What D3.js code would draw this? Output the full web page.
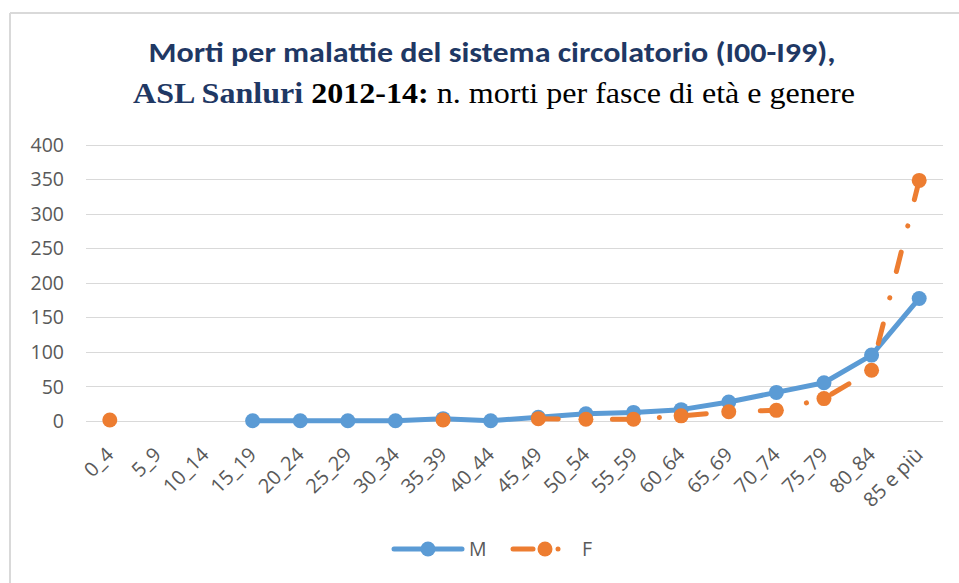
<!DOCTYPE html>
<html>
<head>
<meta charset="utf-8">
<script src="https://cdn.jsdelivr.net/npm/d3@7"></script>
<style>
  html, body { margin: 0; padding: 0; background: #fff; }
  svg { display: block; }
</style>
</head>
<body>
<script>
const categories = ["0_4","5_9","10_14","15_19","20_24","25_29","30_34","35_39","40_44","45_49","50_54","55_59","60_64","65_69","70_74","75_79","80_84","85 e più"];
const valuesM = [null,null,null,0,0,0,0,3,0,5,10,12,16,27,41,55,95,177];
const valuesF = [1,null,null,null,null,null,null,1,null,3,2,2,7,13,15,32,73,348];
const yTicks = [0,50,100,150,200,250,300,350,400];
const seriesNames = ["M","F"];

const W = 959, H = 583;
const colM = "#5B9BD5", colF = "#ED7D31", grid = "#D9D9D9", txt = "#595959";

const svg = d3.select("body").append("svg").attr("width", W).attr("height", H);

// chart frame (top + left edge visible)
svg.append("line").attr("x1", 10).attr("x2", W).attr("y1", 13).attr("y2", 13)
  .attr("stroke", "#d9d9d9").attr("stroke-width", 2);
svg.append("line").attr("x1", 10).attr("x2", 10).attr("y1", 13).attr("y2", H)
  .attr("stroke", "#d9d9d9").attr("stroke-width", 2);

// title
const t1 = svg.append("text").attr("x", 492).attr("y", 62).attr("text-anchor", "middle")
  .attr("font-family", "Carlito, Calibri, 'Liberation Sans Narrow', 'DejaVu Sans Condensed', sans-serif").attr("font-weight", "bold")
  .attr("font-size", 29).attr("fill", "#1F3864")
  .text("Morti per malattie del sistema circolatorio (I00-I99),");
t1.attr("textLength", 687).attr("lengthAdjust", "spacingAndGlyphs");

const t2 = svg.append("text").attr("x", 494).attr("y", 103).attr("text-anchor", "middle")
  .attr("font-family", "'Liberation Serif', 'Times New Roman', serif").attr("font-size", 30);
t2.append("tspan").attr("font-weight", "bold").attr("fill", "#1F3864").text("ASL Sanluri ");
t2.append("tspan").attr("font-weight", "bold").attr("fill", "#000").text("2012-14: ");
t2.append("tspan").attr("fill", "#000").text("n. morti per fasce di età e genere");
t2.attr("textLength", 722).attr("lengthAdjust", "spacingAndGlyphs");

// scales
const x = d3.scalePoint().domain(categories).range([86, 943]).padding(0.5);
const y = d3.scaleLinear().domain([0, 400]).range([420.7, 144.5]);

// gridlines
svg.append("g").selectAll("line").data(yTicks).join("line")
  .attr("x1", 86).attr("x2", 943)
  .attr("y1", d => Math.round(y(d)) + 0.5).attr("y2", d => Math.round(y(d)) + 0.5)
  .attr("stroke", grid).attr("stroke-width", 1);

// y axis labels
const yAxis = d3.axisLeft(y).tickValues(yTicks).tickSize(0).tickPadding(0);
const gy = svg.append("g").attr("transform", "translate(64,0)").call(yAxis);
gy.select(".domain").remove();
gy.selectAll("text").attr("font-family", "'Open Sans', sans-serif").attr("font-size", 19.5)
  .attr("fill", txt).attr("dy", "0.35em");

// x axis labels
const xAxis = d3.axisBottom(x).tickSize(0).tickPadding(0);
const gx = svg.append("g").call(xAxis);
gx.select(".domain").remove();
gx.selectAll(".tick").attr("transform", d => `translate(${x(d) + 5},456)`);
gx.selectAll("text").attr("font-family", "'Open Sans', sans-serif").attr("font-size", 20)
  .attr("fill", txt).attr("text-anchor", "end").attr("y", 0).attr("dy", 0)
  .attr("transform", "rotate(-45)");

// data
const dataM = categories.map((c, i) => ({c, v: valuesM[i]}));
const dataF = categories.map((c, i) => ({c, v: valuesF[i]}));
const line = d3.line().defined(d => d.v != null).x(d => x(d.c)).y(d => y(d.v));

svg.append("path").datum(dataM).attr("d", line).attr("fill", "none")
  .attr("stroke", colM).attr("stroke-width", 5).attr("stroke-linejoin", "round").attr("stroke-linecap", "round");
svg.append("g").selectAll("circle").data(dataM.filter(d => d.v != null)).join("circle")
  .attr("cx", d => x(d.c)).attr("cy", d => y(d.v)).attr("r", 7.5).attr("fill", colM);

svg.append("path").datum(dataF).attr("d", line).attr("fill", "none")
  .attr("stroke", colF).attr("stroke-width", 5).attr("stroke-linecap", "round")
  .attr("stroke-dasharray", "20,27,0.1,27");
svg.append("g").selectAll("circle").data(dataF.filter(d => d.v != null)).join("circle")
  .attr("cx", d => x(d.c)).attr("cy", d => y(d.v)).attr("r", 7.5).attr("fill", colF);

// legend
const lg = svg.append("g");
const ly = 549;
lg.append("line").attr("x1", 394).attr("x2", 462).attr("y1", ly).attr("y2", ly)
  .attr("stroke", colM).attr("stroke-width", 5).attr("stroke-linecap", "round");
lg.append("circle").attr("cx", 428).attr("cy", ly).attr("r", 7.5).attr("fill", colM);
lg.append("text").attr("x", 469).attr("y", ly).attr("dy", "0.35em").attr("font-family", "'Open Sans', sans-serif")
  .attr("font-size", 19.5).attr("fill", txt).text(seriesNames[0]);
lg.append("line").attr("x1", 513).attr("x2", 533).attr("y1", ly).attr("y2", ly)
  .attr("stroke", colF).attr("stroke-width", 5).attr("stroke-linecap", "round");
lg.append("circle").attr("cx", 545).attr("cy", ly).attr("r", 7.5).attr("fill", colF);
lg.append("circle").attr("cx", 558).attr("cy", ly).attr("r", 2.5).attr("fill", colF);
lg.append("text").attr("x", 582).attr("y", ly).attr("dy", "0.35em").attr("font-family", "'Open Sans', sans-serif")
  .attr("font-size", 19.5).attr("fill", txt).text(seriesNames[1]);
</script>
</body>
</html>
